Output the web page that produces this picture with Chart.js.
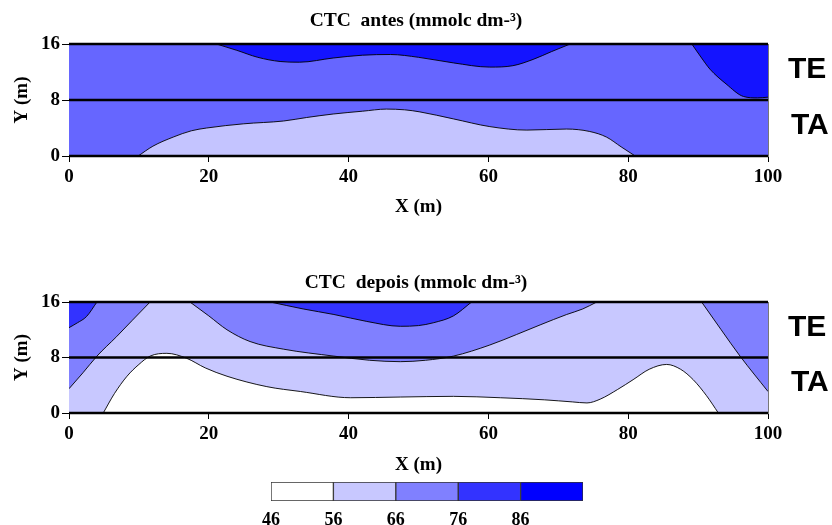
<!DOCTYPE html>
<html>
<head>
<meta charset="utf-8">
<script src="https://cdn.jsdelivr.net/npm/chart.js@4"></script>
<style>
  html, body { margin: 0; padding: 0; background: #fff; }
  #wrap { position: relative; width: 832px; height: 525px; overflow: hidden; }
  canvas { position: absolute; left: 0; }
</style>
</head>
<body>
<div id="wrap">
  <canvas id="antes" width="832" height="230" style="top:0px"></canvas>
  <canvas id="depois" width="832" height="225" style="top:255px"></canvas>
  <canvas id="scale" width="832" height="47" style="top:478px"></canvas>
</div>
<script>
// axes
const xTicks = [0, 20, 40, 60, 80, 100];
const yTicks = [0, 8, 16];
const layerDepths = [0, 8, 16];
const zones = ["TE", "TA"];
const zoneY = [12.3, 4.3];

// colour scale (mmolc dm-3)
const levels = [46, 56, 66, 76, 86, 96];
const levelColors = ["#ffffff", "#c8c8ff", "#8080ff", "#3333ff", "#0000ff"];

// CTC antes - isolines [x, y]
const antesHighA = [[21.1,16],[24,15.1],[27,14.1],[30.2,13.5],[33,13.4],[37.8,14.0],[42,14.4],[46,14.5],[50,14.1],[55,13.3],[60.2,12.7],[63.5,12.9],[66.4,13.8],[69,14.9],[71.7,16]];
const antesHighB = [[89.1,16],[90.5,14.0],[91.7,12.4],[94,10.3],[96.5,8.5],[98.5,8.3],[100,8.4]];
const antesLow = [[9.9,0],[12,1.4],[14.9,2.7],[17.5,3.6],[19.7,4.0],[25,4.6],[30.7,5.0],[34,5.5],[37.8,6.0],[42,6.4],[45.4,6.7],[48,6.6],[50.2,6.3],[55,5.3],[60.2,4.2],[65.5,3.7],[71.2,3.85],[74.5,3.5],[76.9,2.7],[79,1.3],[81,0]];

// CTC depois - isolines [x, y]
const depoisCorner = [[0,12.3],[1.2,13.0],[2.5,13.9],[4,16]];
const depoisMidLeft = [[0,3.5],[2,5.8],[4,8.2],[6.8,11.0],[9,13.3],[11.6,16]];
const depoisMidCenter = [[17.3,16],[20,14.0],[22.6,12.0],[25.9,10.3],[30.7,9.2],[37.9,8.2],[43,7.6],[47.4,7.4],[51,7.6],[55,8.2],[60.2,9.8],[64,11.3],[67.4,12.7],[71.2,14.2],[73.5,15],[75.5,16]];
const depoisMidRight = [[90.5,16],[93.3,12.0],[96,8.2],[100,3.1]];
const depoisHigh = [[28.8,16],[33.5,15.0],[37.9,14.2],[42.6,13.2],[47.4,12.5],[50,12.6],[52.1,13.0],[55,14.0],[57.6,16]];
const depoisLow = [[4.9,0],[6.5,2.8],[8.3,5.3],[10,7.0],[11.6,8.2],[14,8.6],[16.8,7.9],[19.5,6.5],[22.6,5.3],[28.3,3.8],[33.1,3.1],[40.3,2.2],[47.4,2.3],[55,2.4],[61.7,2.2],[68,1.9],[72,1.6],[74.1,1.45],[76,2.0],[78.5,3.4],[80.7,4.8],[83,6.3],[85.5,7.0],[87.5,6.3],[89.3,4.8],[91.2,2.5],[92.9,0]];

const SERIF = "'Liberation Serif', 'Times New Roman', serif";
const SANS = "'Liberation Sans', Arial, sans-serif";
Chart.defaults.font.family = SERIF;
Chart.defaults.font.weight = "bold";
Chart.defaults.color = "#000";

const toXY = (pts) => pts.map(([x, y]) => ({ x, y }));

// paints the plot area in the panel's base colour
const areaFill = {
  id: "areaFill",
  beforeDatasetsDraw(chart, args, opts) {
    const { ctx, chartArea: a } = chart;
    ctx.save();
    ctx.fillStyle = opts.color;
    ctx.fillRect(a.left, a.top, a.width, a.height);
    ctx.restore();
  },
};

// TE / TA labels on the right of each panel
const zoneText = {
  id: "zoneText",
  afterDraw(chart) {
    const { ctx, chartArea: a, scales } = chart;
    ctx.save();
    ctx.font = "bold 30px " + SANS;
    ctx.fillStyle = "#000";
    ctx.textBaseline = "middle";
    zones.forEach((z, i) => ctx.fillText(z, a.right + 20 + i * 3, scales.y.getPixelForValue(zoneY[i])));
    ctx.restore();
  },
};

function makePanel(id, title, base, regions, pad) {
  const datasets = regions.map((r) => ({
    data: toXY(r.line),
    backgroundColor: r.color,
    fill: { value: r.to },
    borderColor: "#000",
    borderWidth: 0.9,
    pointRadius: 0,
    cubicInterpolationMode: "monotone",
    order: r.order,
  }));
  layerDepths.forEach((d) =>
    datasets.push({
      data: [{ x: xTicks[0], y: d }, { x: xTicks[xTicks.length - 1], y: d }],
      borderColor: "#000",
      borderWidth: 2.5,
      pointRadius: 0,
      fill: false,
      clip: false,
      order: 0,
    })
  );

  return new Chart(document.getElementById(id), {
    type: "line",
    data: { datasets },
    plugins: [areaFill, zoneText],
    options: {
      responsive: false,
      animation: false,
      layout: { padding: 0 },
      plugins: {
        legend: { display: false },
        tooltip: { enabled: false },
        areaFill: { color: base },
        title: {
          display: true,
          text: title,
          color: "#000",
          font: { size: 19.5, weight: "bold" },
          padding: { top: pad.tTop, bottom: pad.tBottom },
        },
      },
      scales: {
        x: {
          type: "linear",
          min: 0,
          max: 100,
          afterBuildTicks: (s) => { s.ticks = xTicks.map((value) => ({ value })); },
          grid: { drawOnChartArea: false, color: "#000", tickLength: 6 },
          border: { color: "#000" },
          ticks: { color: "#000", font: { size: 19, weight: "bold" }, padding: 4, maxRotation: 0 },
          title: {
            display: true,
            text: "X (m)",
            color: "#000",
            font: { size: 19, weight: "bold" },
            padding: { top: 0, bottom: pad.xTitle },
          },
          afterFit: (s) => { s.height = pad.xAxis; },
        },
        y: {
          min: 0,
          max: 16,
          afterBuildTicks: (s) => { s.ticks = yTicks.map((value) => ({ value })); },
          grid: { drawOnChartArea: false, color: "#000", tickLength: 7 },
          border: { color: "#777" },
          ticks: { color: "#000", font: { size: 19, weight: "bold" }, padding: 2 },
          title: {
            display: true,
            text: "Y (m)",
            color: "#000",
            font: { size: 19, weight: "bold" },
            padding: { top: 11, bottom: 0 },
          },
          afterFit: (s) => { s.width = 69; },
        },
        y2: {
          position: "right",
          min: 0,
          max: 16,
          ticks: { display: false },
          grid: { drawOnChartArea: false, drawTicks: false },
          border: { color: "#777" },
          afterFit: (s) => { s.width = 64; },
        },
      },
    },
  });
}

makePanel("antes", "CTC  antes (mmolc dm-³)", "#6666ff", [
  { line: antesLow, color: "#c4c4ff", to: 0, order: 4 },
  { line: antesHighA, color: "#1414ff", to: 16, order: 4 },
  { line: antesHighB, color: "#1414ff", to: 16, order: 4 },
], { tTop: 9.5, tBottom: 11.1, xAxis: 74, xTitle: 11.6 });

makePanel("depois", "CTC  depois (mmolc dm-³)", "#c8c8ff", [
  { line: depoisMidLeft, color: "#8080ff", to: 16, order: 6 },
  { line: depoisMidCenter, color: "#8080ff", to: 16, order: 6 },
  { line: depoisMidRight, color: "#8080ff", to: 16, order: 6 },
  { line: depoisCorner, color: "#3333ff", to: 16, order: 5 },
  { line: depoisHigh, color: "#3333ff", to: 16, order: 5 },
  { line: depoisLow, color: "#ffffff", to: 0, order: 5 },
], { tTop: 16.5, tBottom: 7.1, xAxis: 67, xTitle: 3.6 });

// colour bar
new Chart(document.getElementById("scale"), {
  type: "bar",
  data: {
    labels: [""],
    datasets: levelColors.map((c, i) => ({
      data: [[levels[i], levels[i + 1]]],
      backgroundColor: c,
      borderColor: "#333",
      borderWidth: 1,
      borderSkipped: false,
      grouped: false,
      barPercentage: 1,
      categoryPercentage: 1,
    })),
  },
  options: {
    indexAxis: "y",
    responsive: false,
    animation: false,
    layout: { padding: { left: 271, right: 249, top: 4, bottom: 0 } },
    plugins: { legend: { display: false }, tooltip: { enabled: false } },
    scales: {
      x: {
        type: "linear",
        min: levels[0],
        max: levels[levels.length - 1],
        afterBuildTicks: (s) => { s.ticks = levels.slice(0, -1).map((value) => ({ value })); },
        grid: { display: false },
        border: { display: false },
        ticks: { color: "#000", font: { size: 18, weight: "bold" }, padding: 1 },
        afterFit: (s) => { s.height = 24; },
      },
      y: { display: false },
    },
  },
});
</script>
</body>
</html>
